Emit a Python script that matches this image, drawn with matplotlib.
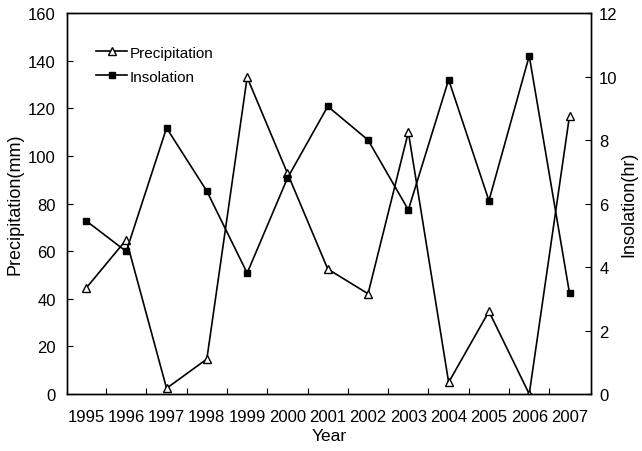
import numpy as np
import matplotlib
matplotlib.use("Agg")
import matplotlib.pyplot as plt

plt.rcParams['font.family'] = ['Liberation Sans', 'DejaVu Sans']

years = ['1995', '1996', '1997', '1998', '1999', '2000', '2001',
         '2002', '2003', '2004', '2005', '2006', '2007']
precipitation = [44.4, 64.8, 2.4, 14.7, 133, 92.7, 52.5,
                 42.1, 110, 4.9, 34.7, 0, 116.9]
insolation = [5.46, 4.49, 8.38, 6.39, 3.81, 6.8, 9.06,
              8.0, 5.8, 9.9, 6.09, 10.65, 3.17]

x = np.arange(len(years))

fig = plt.figure(figsize=(6.42, 4.52), dpi=100)
ax1 = fig.add_axes([0.1044, 0.126, 0.816, 0.843])
ax2 = ax1.twinx()

l1, = ax1.plot(x, precipitation, color='black', lw=1.2, marker='^',
               markersize=5.5, markerfacecolor='white', markeredgecolor='black',
               markeredgewidth=1.0, label='Precipitation')
l2, = ax2.plot(x, insolation, color='black', lw=1.2, marker='s',
               markersize=4.5, markerfacecolor='black', markeredgecolor='black',
               label='Insolation')

ax1.set_xlim(-0.47, 12.53)
ax1.set_ylim(0, 160)
ax2.set_ylim(0, 12)
ax1.set_yticks(np.arange(0, 161, 20))
ax2.set_yticks(np.arange(0, 13, 2))

ax1.set_xticks(x)
ax1.set_xticklabels(years)
ax1.set_xticks(x[:-1] + 0.5, minor=True)
ax1.tick_params(axis='x', which='major', length=0, pad=11, labelsize=12)
ax1.tick_params(axis='x', which='minor', direction='in', length=4, width=0.8)
ax1.tick_params(axis='y', direction='in', length=4, width=0.8, labelsize=12, pad=8)
ax2.tick_params(axis='y', direction='in', length=4, width=0.8, labelsize=12, pad=6)

ax1.set_xlabel('Year', fontsize=12.5, labelpad=3)
ax1.set_ylabel('Precipitation(mm)', fontsize=13, labelpad=3)
ax2.set_ylabel('Insolation(hr)', fontsize=13, labelpad=2)

for ax in (ax1, ax2):
    for s in ax.spines.values():
        s.set_linewidth(1.0)

ax2.legend(handles=[l1, l2], loc='upper left', bbox_to_anchor=(0.03, 0.95),
           frameon=False, fontsize=11, handlelength=2.0, handletextpad=0.2,
           labelspacing=0.65)

fig.savefig('out.png', dpi=100)
